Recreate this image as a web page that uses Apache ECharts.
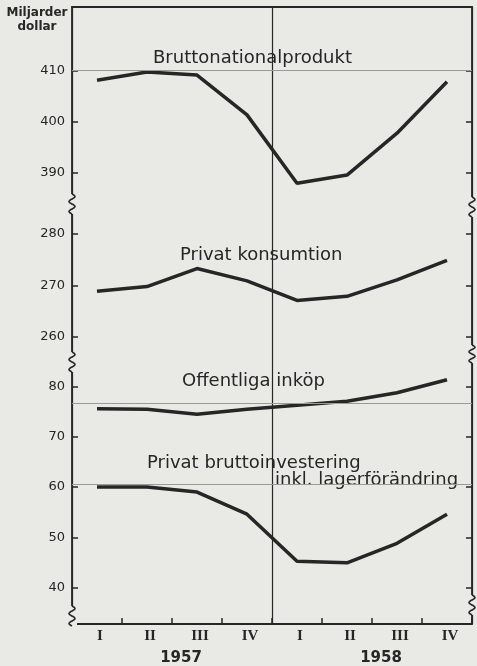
<!DOCTYPE html>
<html>
<head>
<meta charset="utf-8">
<script src="https://cdn.jsdelivr.net/npm/echarts@6/dist/echarts.min.js"></script>
<style>
  html, body { margin: 0; padding: 0; background: #e9e9e6; }
  #chart { width: 477px; height: 666px; }
</style>
</head>
<body>
<div id="chart"></div>
<script>
// kvartal och år
const quarters = ['I', 'II', 'III', 'IV', 'I', 'II', 'III', 'IV']
const years = ['1957', '1958']

// miljarder dollar
const bruttonationalprodukt = [408.2, 409.8, 409.2, 401.4, 388.0, 389.6, 397.8, 407.9]
const privatKonsumtion = [268.9, 269.8, 273.3, 270.9, 267.1, 267.9, 271.1, 274.9]
const offentligaInkop = [75.6, 75.5, 74.5, 75.5, 76.3, 77.1, 78.8, 81.4]
const privatInvestering = [60.0, 60.0, 59.0, 54.6, 45.2, 44.9, 48.8, 54.6]

// skalstreck per delaxel
const ticksTop = [390, 400, 410]
const ticksMid = [260, 270, 280]
const ticksLow = [40, 50, 60, 70, 80]

const ink = '#262626'
const paper = '#e9e9e6'
const font = 'DejaVu Sans'

const chart = echarts.init(document.getElementById('chart'))

function yAxes(gridIndex, min, max, ticks) {
  const base = {
    type: 'value',
    gridIndex,
    min,
    max,
    splitLine: { show: false },
    axisLine: { show: true, lineStyle: { color: ink, width: 1.8 } },
    axisTick: { show: true, inside: true, length: 6, customValues: ticks, lineStyle: { color: ink, width: 1.5 } }
  }
  return [
    { ...base, position: 'left', axisLabel: { customValues: ticks, color: ink, fontSize: 13, margin: 7, fontFamily: font } },
    { ...base, position: 'right', axisLabel: { show: false } }
  ]
}

// mittlinjen mellan 1957 och 1958: dold värdeaxel 0..8 kvartal, stödlinje vid 4
const dividerAxis = (gridIndex) => ({
  type: 'value', gridIndex, min: 0, max: 8, interval: 4, position: 'bottom',
  axisLine: { show: false }, axisTick: { show: false }, axisLabel: { show: false },
  splitLine: { show: true, lineStyle: { color: ink, width: 1.2 } }
})

// svaga linjer som syns i bilden
const faint = (values) => ({
  silent: true,
  symbol: 'none',
  label: { show: false },
  lineStyle: { color: '#9a9a96', width: 1, type: 'solid' },
  data: values.map(v => ({ yAxis: v }))
})

// vågiga axelbrott (dekor)
function squiggle(x, y0, h) {
  const pts = []
  const n = 24
  for (let t = 0; t <= n; t++) {
    pts.push([x + 3 * Math.sin(Math.PI * 4 * t / n), y0 + h * t / n])
  }
  return [
    { type: 'rect', z: 100, shape: { x: x - 5, y: y0, width: 10, height: h }, style: { fill: paper } },
    { type: 'polyline', z: 101, shape: { points: pts, smooth: 0.4 }, style: { stroke: ink, lineWidth: 1.6, fill: null } }
  ]
}

const labelStyle = { fill: ink, font: '18px "DejaVu Sans"', verticalAlign: 'middle' }

const option = {
  backgroundColor: paper,
  animation: false,
  grid: [
    { left: 72, right: 5, top: 7, height: 197 },
    { left: 72, right: 5, top: 204, height: 158 },
    { left: 72, right: 5, top: 362, height: 265 }
  ],
  xAxis: [
    {
      type: 'category', gridIndex: 0, position: 'top', data: quarters,
      axisLine: { show: true, lineStyle: { color: ink, width: 1.8 } },
      axisTick: { show: false }, axisLabel: { show: false }
    },
    {
      type: 'category', gridIndex: 1, data: quarters, show: false
    },
    {
      type: 'category', gridIndex: 2, position: 'bottom', data: quarters,
      axisLine: { show: true, lineStyle: { color: ink, width: 1.8 } },
      axisTick: { show: true, inside: true, length: 6, lineStyle: { color: ink, width: 1.5 } },
      axisLabel: { color: ink, fontSize: 15, fontWeight: 'bold', fontFamily: 'Liberation Serif', margin: 5, padding: [0, 0, 0, 6] }
    },
    {
      type: 'category', gridIndex: 2, position: 'bottom', offset: 19, data: years,
      axisLine: { show: false }, axisTick: { show: false },
      axisLabel: { color: ink, fontSize: 15, fontWeight: 'bold', fontFamily: font, padding: [0, 0, 0, 18] }
    },
    dividerAxis(0),
    dividerAxis(1),
    dividerAxis(2)
  ],
  yAxis: [
    ...yAxes(0, 383.92, 422.55, ticksTop),
    ...yAxes(1, 255.15, 285.83, ticksMid),
    ...yAxes(2, 32.71, 84.93, ticksLow)
  ],
  series: [
    {
      name: 'Bruttonationalprodukt', type: 'line', xAxisIndex: 0, yAxisIndex: 0,
      data: bruttonationalprodukt, symbol: 'none',
      lineStyle: { color: ink, width: 3.5 },
      markLine: faint([410.2])
    },
    {
      name: 'Privat konsumtion', type: 'line', xAxisIndex: 1, yAxisIndex: 2,
      data: privatKonsumtion, symbol: 'none',
      lineStyle: { color: ink, width: 3.5 }
    },
    {
      name: 'Offentliga inköp', type: 'line', xAxisIndex: 2, yAxisIndex: 4,
      data: offentligaInkop, symbol: 'none',
      lineStyle: { color: ink, width: 3.5 },
      markLine: faint([76.7, 60.5])
    },
    {
      name: 'Privat bruttoinvestering inkl. lagerförändring', type: 'line', xAxisIndex: 2, yAxisIndex: 4,
      data: privatInvestering, symbol: 'none',
      lineStyle: { color: ink, width: 3.5 }
    }
  ],
  graphic: [
    { type: 'text', x: 37, y: 6, style: { text: 'Miljarder\ndollar', fill: ink, font: 'bold 12px "DejaVu Sans"', align: 'center', lineHeight: 14 } },
    { type: 'text', x: 153, y: 58, style: { ...labelStyle, text: 'Bruttonationalprodukt' } },
    { type: 'text', x: 180, y: 255, style: { ...labelStyle, text: 'Privat konsumtion' } },
    { type: 'text', x: 182, y: 381, style: { ...labelStyle, text: 'Offentliga inköp' } },
    { type: 'text', x: 147, y: 463, style: { ...labelStyle, text: 'Privat bruttoinvestering' } },
    { type: 'text', x: 275, y: 480, style: { ...labelStyle, text: 'inkl. lagerförändring' } },
    ...squiggle(72, 194, 20),
    ...squiggle(72, 352, 20),
    ...squiggle(72, 606, 20),
    ...squiggle(472, 197, 20),
    ...squiggle(472, 345, 18),
    ...squiggle(472, 595, 20)
  ]
}

chart.setOption(option)
window.addEventListener('resize', () => chart.resize())
</script>
</body>
</html>
